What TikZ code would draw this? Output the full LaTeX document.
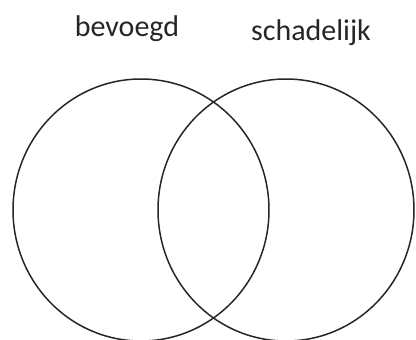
\documentclass[tikz,border=0pt]{standalone}
\usepackage{fontspec}
\setmainfont{Carlito}
\usepackage{tikz}
\usetikzlibrary{shapes.geometric}

\begin{document}
\begin{tikzpicture}[
    x=1pt, y=-1pt,
    setring/.style={ellipse, draw=black!85, line width=1.5pt, minimum width=256pt, minimum height=262pt, inner sep=0pt},
    setlbl/.style={font=\fontsize{30}{36}\selectfont, text=black!85, anchor=base, inner sep=0pt},
]
\useasboundingbox (0,0) rectangle (416,340);

% ========== SETS ==========
\node[setring] at (141,210) (bevoegd) {};
\node[setring] at (286,210) (schadelijk) {};

% ========== LABELS ==========
\node[setlbl] at (127,37) (bevoegdlbl) {bevoegd};
\node[setlbl] at (311,40) (schadelijklbl) {schadelijk};

\end{tikzpicture}
\end{document}
